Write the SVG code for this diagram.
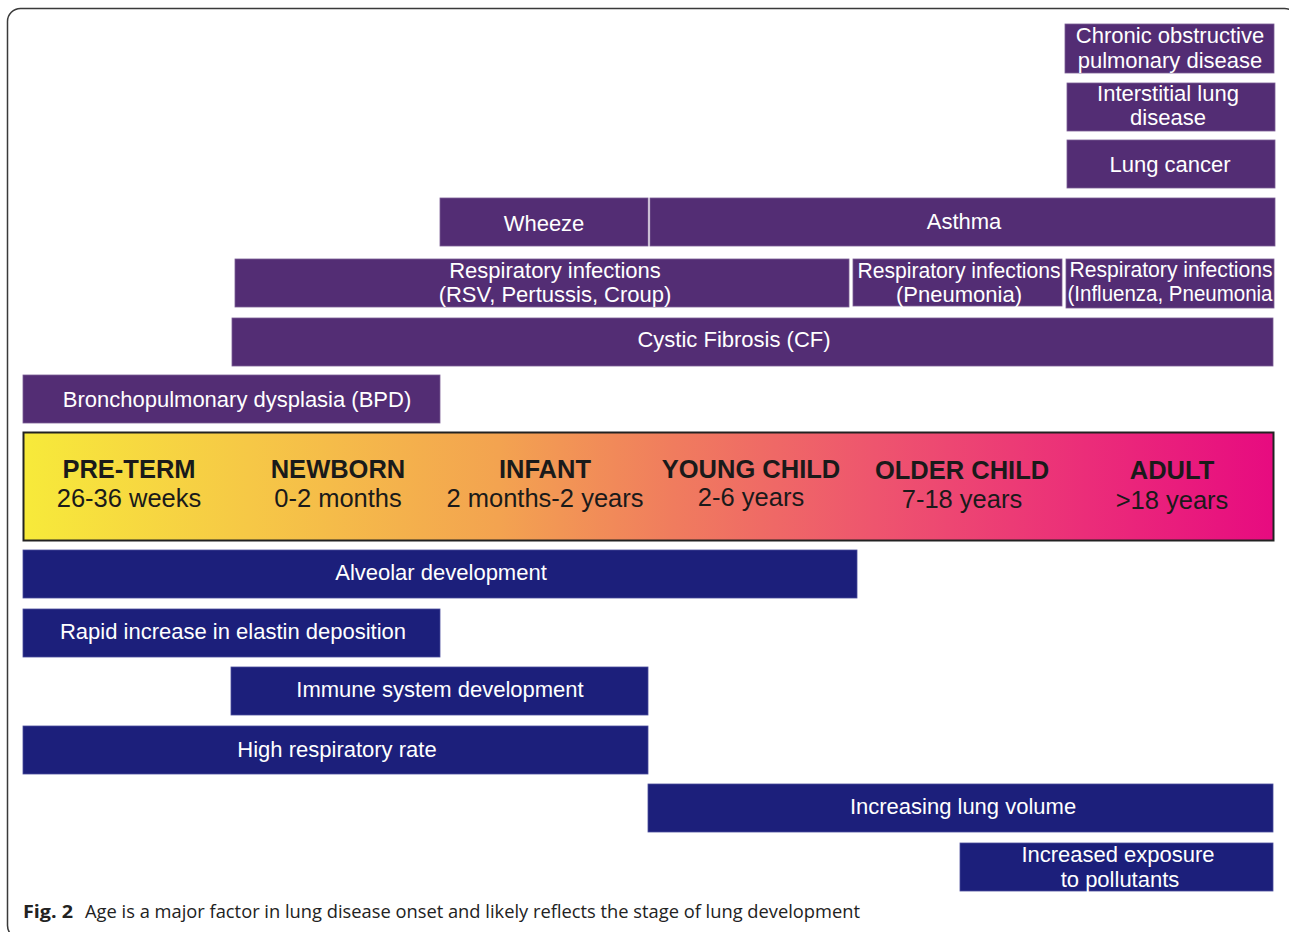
<svg xmlns="http://www.w3.org/2000/svg" width="1289" height="932" viewBox="0 0 1289 932">
<defs>
<linearGradient id="age" x1="0" y1="0" x2="1" y2="0">
<stop offset="0" stop-color="#f7ea3a"/>
<stop offset="0.18" stop-color="#f6c846"/>
<stop offset="0.38" stop-color="#f3a350"/>
<stop offset="0.52" stop-color="#f07c5e"/>
<stop offset="0.68" stop-color="#ee556e"/>
<stop offset="0.85" stop-color="#eb2d79"/>
<stop offset="1" stop-color="#e70b80"/>
</linearGradient>
<style>
.p{fill:#532d74;stroke:#7a5c95;stroke-width:0.8}
.n{fill:#1c1f7b;stroke:#4a4d9c;stroke-width:0.8}
.t{font-family:"Liberation Sans",Arial,sans-serif;font-size:22px;fill:#ffffff;text-anchor:middle}
.h{font-family:"Liberation Sans",Arial,sans-serif;font-size:25.5px;font-weight:bold;fill:#1a1a1a;text-anchor:middle}
.s{font-family:"Liberation Sans",Arial,sans-serif;font-size:25.5px;fill:#1a1a1a;text-anchor:middle}
.c{font-family:"Open Sans","Liberation Sans",sans-serif;font-size:18px;fill:#222}
</style>
</defs>
<rect x="0" y="0" width="1289" height="932" fill="#ffffff"/>
<rect id="frame" x="7.5" y="8.5" width="1290" height="930" rx="13" fill="none" stroke="#3a3a3a" stroke-width="1.5"/>

<g id="copd"><rect class="p" x="1065" y="24" width="209" height="49"/><text class="t" x="1170" y="43">Chronic obstructive</text><text class="t" x="1170" y="68">pulmonary disease</text></g>
<g id="ild"><rect class="p" x="1067" y="83" width="208" height="48"/><text class="t" x="1168" y="101">Interstitial lung</text><text class="t" x="1168" y="125">disease</text></g>
<g id="lungcancer"><rect class="p" x="1067" y="140" width="208" height="48"/><text class="t" x="1170" y="172">Lung cancer</text></g>
<g id="wheeze"><rect class="p" x="440" y="198" width="208" height="48"/><text class="t" x="544" y="231">Wheeze</text></g>
<g id="asthma"><rect class="p" x="650" y="198" width="625" height="48"/><text class="t" x="964" y="229">Asthma</text></g>
<g id="resp-rsv"><rect class="p" x="235" y="259" width="614" height="48"/><text class="t" x="555" y="278">Respiratory infections</text><text class="t" x="555" y="302">(RSV, Pertussis, Croup)</text></g>
<g id="resp-pneumonia"><rect class="p" x="853" y="259" width="209" height="47"/><text class="t" x="959" y="278" textLength="203" lengthAdjust="spacingAndGlyphs">Respiratory infections</text><text class="t" x="959" y="302">(Pneumonia)</text></g>
<g id="resp-influenza"><rect class="p" x="1066" y="259" width="208" height="49"/><text class="t" x="1171" y="277" textLength="203" lengthAdjust="spacingAndGlyphs">Respiratory infections</text><text class="t" x="1170" y="301" textLength="205" lengthAdjust="spacingAndGlyphs">(Influenza, Pneumonia</text></g>
<g id="cf"><rect class="p" x="232" y="318" width="1041" height="48"/><text class="t" x="734" y="347">Cystic Fibrosis (CF)</text></g>
<g id="bpd"><rect class="p" x="23" y="375" width="417" height="48"/><text class="t" x="237" y="407">Bronchopulmonary dysplasia (BPD)</text></g>

<g id="age-bar">
<rect x="23.5" y="432.5" width="1250" height="108" fill="url(#age)" stroke="#222" stroke-width="2"/>
<text class="h" x="129" y="478">PRE-TERM</text><text class="s" x="129" y="507">26-36 weeks</text>
<text class="h" x="338" y="478">NEWBORN</text><text class="s" x="338" y="507">0-2 months</text>
<text class="h" x="545" y="478">INFANT</text><text class="s" x="545" y="507">2 months-2 years</text>
<text class="h" x="751" y="478">YOUNG CHILD</text><text class="s" x="751" y="506">2-6 years</text>
<text class="h" x="962" y="479">OLDER CHILD</text><text class="s" x="962" y="508">7-18 years</text>
<text class="h" x="1172" y="479">ADULT</text><text class="s" x="1172" y="509">&gt;18 years</text>
</g>

<g id="alveolar"><rect class="n" x="23" y="550" width="834" height="48"/><text class="t" x="441" y="580">Alveolar development</text></g>
<g id="elastin"><rect class="n" x="23" y="609" width="417" height="48"/><text class="t" x="233" y="639">Rapid increase in elastin deposition</text></g>
<g id="immune"><rect class="n" x="231" y="667" width="417" height="48"/><text class="t" x="440" y="697">Immune system development</text></g>
<g id="highresp"><rect class="n" x="23" y="726" width="625" height="48"/><text class="t" x="337" y="757">High respiratory rate</text></g>
<g id="lungvolume"><rect class="n" x="648" y="784" width="625" height="48"/><text class="t" x="963" y="814">Increasing lung volume</text></g>
<g id="exposure"><rect class="n" x="960" y="843" width="313" height="48"/><text class="t" x="1118" y="862">Increased exposure</text><text class="t" x="1120" y="887">to pollutants</text></g>

<g id="connectors"></g>

<g id="caption">
<text class="c" x="23" y="918" font-weight="bold" textLength="50" lengthAdjust="spacingAndGlyphs">Fig. 2</text>
<text class="c" x="85" y="918" textLength="775" lengthAdjust="spacingAndGlyphs">Age is a major factor in lung disease onset and likely reflects the stage of lung development</text>
</g>
</svg>
